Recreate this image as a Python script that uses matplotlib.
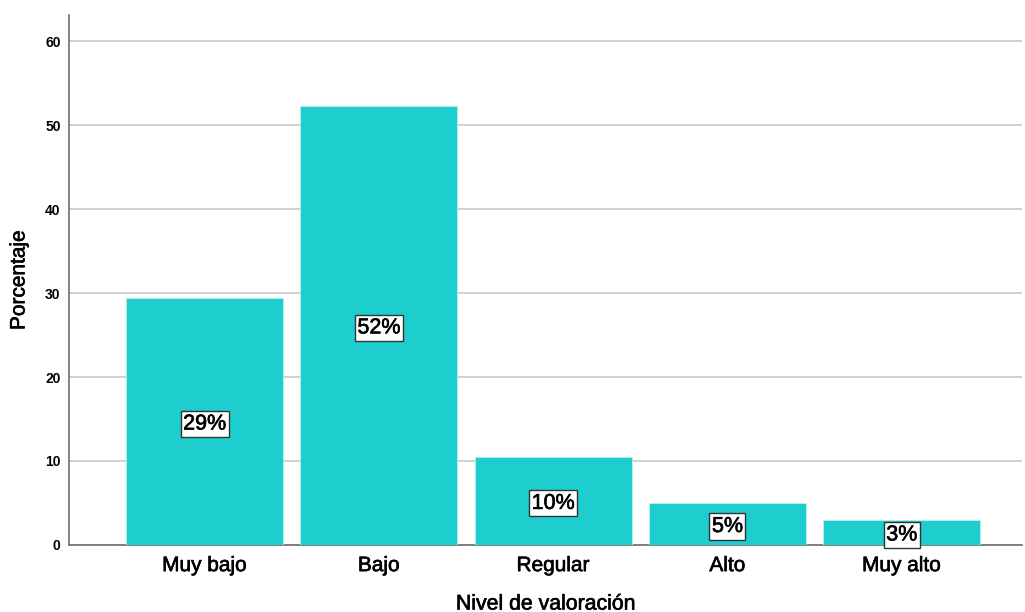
import matplotlib
matplotlib.use("Agg")
import matplotlib.pyplot as plt
import matplotlib.patheffects as pe

plt.rcParams["font.family"] = ["Liberation Sans", "DejaVu Sans"]

categories = ["Muy bajo", "Bajo", "Regular", "Alto", "Muy alto"]
percentages = [29.4, 52.3, 10.5, 5.0, 3.0]
labels = ["29%", "52%", "10%", "5%", "3%"]
y_ticks = [0, 10, 20, 30, 40, 50, 60]

# slightly heavier strokes for the text, like a semi-bold face
heavy = [pe.withStroke(linewidth=0.45, foreground="black")]

fig = plt.figure(figsize=(10.25, 6.12), dpi=100)
ax = fig.add_axes([0.0673, 0.1095, 0.9297, 0.866])

x = range(len(categories))
ax.bar(x, percentages, width=0.9, color="#1ECECE", edgecolor="#B8F0F0",
       linewidth=0.6, zorder=3)

for xi, val, lab in zip(x, percentages, labels):
    ax.text(xi, val / 2 - 0.3, lab, ha="center", va="center", fontsize=15.5,
            color="black", zorder=5, path_effects=heavy,
            bbox=dict(boxstyle="square,pad=0.12", facecolor="white",
                      edgecolor="#333333", linewidth=1.0))

ax.set_xlim(-0.778, 4.69)
ax.set_ylim(0, 63.1)
ax.set_yticks(y_ticks)
ax.set_yticklabels([str(t) for t in y_ticks], fontsize=10, fontweight="bold")
ax.set_xticks(list(x))
ax.set_xticklabels(categories, fontsize=15)
for t in ax.get_xticklabels():
    t.set_path_effects(heavy)

ax.yaxis.grid(True, color="#C8C8C8", linewidth=1.2, zorder=0)
ax.set_axisbelow(True)
ax.tick_params(axis="both", length=0)
ax.tick_params(axis="x", pad=8)
ax.tick_params(axis="y", pad=6)

for side in ["top", "right"]:
    ax.spines[side].set_visible(False)
for side in ["left", "bottom"]:
    ax.spines[side].set_color("#6E6E6E")
    ax.spines[side].set_linewidth(1.2)

ax.set_xlabel("Nivel de valoración", fontsize=15.3, labelpad=14,
              path_effects=heavy)
ax.set_ylabel("Porcentaje", fontsize=15, labelpad=12, path_effects=heavy)

fig.savefig("out.png", dpi=100)
